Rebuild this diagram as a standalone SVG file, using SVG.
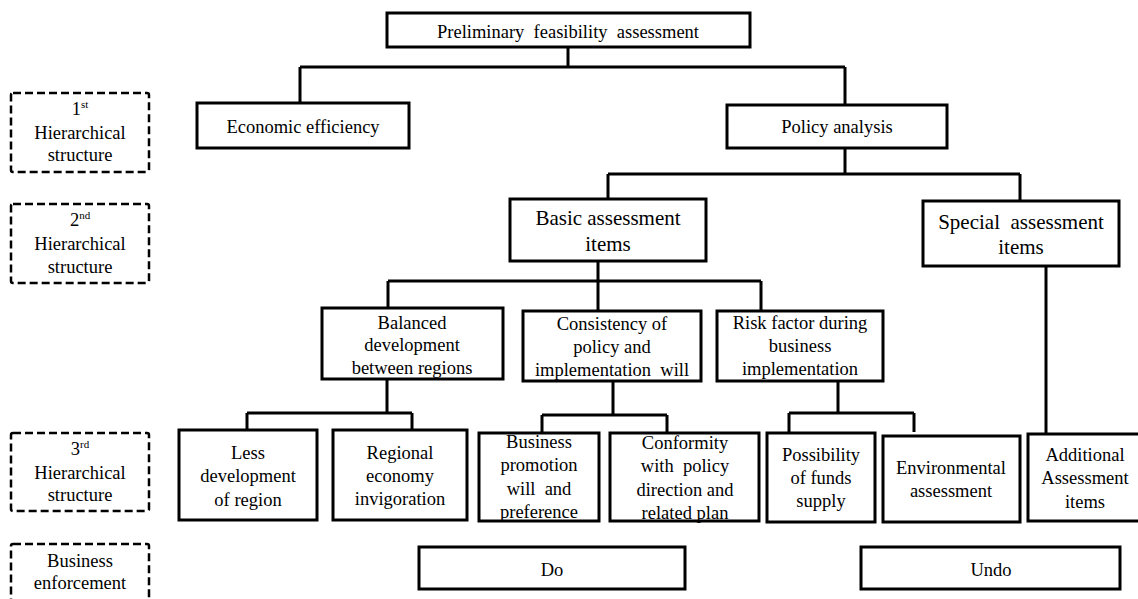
<svg xmlns="http://www.w3.org/2000/svg" width="1138" height="599" viewBox="0 0 1138 599">
<style>
.box{fill:#fff;stroke:#000;stroke-width:3}
.lab{fill:#fff;stroke:#000;stroke-width:2.5;stroke-dasharray:8 4}
.con{fill:none;stroke:#000;stroke-width:3}
text{fill:#000;text-anchor:middle}
.t18{font-size:18.5px}
.t21{font-size:21px}
.sup{font-size:11px}
</style>
<rect x="0" y="0" width="1138" height="599" fill="#fff"/>
<g font-family="'Liberation Serif', 'Times New Roman', serif">
<g id="connectors">
<path class="con" d="M568 47V67M300 67H845M300 67V103M845 67V105"/>
<path class="con" d="M845 148V174M608 174H1020M608 174V199M1020 174V201"/>
<path class="con" d="M598 261V281M388 281H761M388 281V308M598 281V311M761 281V311"/>
<path class="con" d="M387 379V413M247 413H412M247 413V430M412 413V430"/>
<path class="con" d="M613 381V415M542 415H667M542 415V433M667 415V433"/>
<path class="con" d="M838 381V413M789 413H914M789 413V433M914 413V432"/>
<path class="con" d="M1046 266V434"/>
</g>
<g id="label1"><rect class="lab" x="11" y="93" width="138" height="79" rx="2"/>
<text class="t18" x="80" y="115">1<tspan class="sup" dy="-7">st</tspan></text>
<text class="t18" x="80" y="139">Hierarchical</text><text class="t18" x="80" y="161">structure</text></g>
<g id="label2"><rect class="lab" x="11" y="204" width="138" height="79" rx="2"/>
<text class="t18" x="80" y="226">2<tspan class="sup" dy="-7">nd</tspan></text>
<text class="t18" x="80" y="250">Hierarchical</text><text class="t18" x="80" y="273">structure</text></g>
<g id="label3"><rect class="lab" x="11" y="433" width="138" height="78" rx="2"/>
<text class="t18" x="80" y="455">3<tspan class="sup" dy="-7">rd</tspan></text>
<text class="t18" x="80" y="479">Hierarchical</text><text class="t18" x="80" y="501">structure</text></g>
<g id="label4"><rect class="lab" x="11" y="544" width="138" height="70" rx="2"/>
<text class="t18" x="80" y="567">Business</text><text class="t18" x="80" y="589">enforcement</text></g>
<g id="n-top"><rect class="box" x="387" y="13" width="363" height="34"/>
<text class="t18" x="568" y="38" xml:space="preserve">Preliminary  feasibility  assessment</text></g>
<g id="n-econ"><rect class="box" x="197" y="103" width="212" height="45"/>
<text class="t18" x="303" y="133">Economic efficiency</text></g>
<g id="n-policy"><rect class="box" x="727" y="105" width="220" height="43"/>
<text class="t18" x="837" y="133">Policy analysis</text></g>
<g id="n-basic"><rect class="box" x="510" y="199" width="196" height="62"/>
<text class="t21" x="608" y="225">Basic assessment</text><text class="t21" x="608" y="251">items</text></g>
<g id="n-special"><rect class="box" x="923" y="201" width="196" height="65"/>
<text class="t21" x="1021" y="229" xml:space="preserve">Special  assessment</text><text class="t21" x="1021" y="254">items</text></g>
<g id="n-balanced"><rect class="box" x="322" y="308" width="181" height="71"/>
<text class="t18" x="412" y="329">Balanced</text><text class="t18" x="412" y="351">development</text><text class="t18" x="412" y="374">between regions</text></g>
<g id="n-consistency"><rect class="box" x="523" y="311" width="178" height="70"/>
<text class="t18" x="612" y="330">Consistency of</text><text class="t18" x="612" y="353">policy and</text><text class="t18" x="612" y="376" xml:space="preserve">implementation  will</text></g>
<g id="n-risk"><rect class="box" x="717" y="311" width="166" height="70"/>
<text class="t18" x="800" y="329">Risk factor during</text><text class="t18" x="800" y="352">business</text><text class="t18" x="800" y="375">implementation</text></g>
<g id="n-less"><rect class="box" x="179" y="430" width="138" height="90"/>
<text class="t18" x="248" y="459">Less</text><text class="t18" x="248" y="482">development</text><text class="t18" x="248" y="506">of region</text></g>
<g id="n-regional"><rect class="box" x="333" y="430" width="134" height="90"/>
<text class="t18" x="400" y="459">Regional</text><text class="t18" x="400" y="482">economy</text><text class="t18" x="400" y="505">invigoration</text></g>
<g id="n-business"><rect class="box" x="479" y="433" width="120" height="88"/>
<text class="t18" x="539" y="448">Business</text><text class="t18" x="539" y="471">promotion</text><text class="t18" x="539" y="495" xml:space="preserve">will  and</text><text class="t18" x="539" y="518">preference</text></g>
<g id="n-conformity"><rect class="box" x="610" y="433" width="149" height="88"/>
<text class="t18" x="685" y="449">Conformity</text><text class="t18" x="685" y="472" xml:space="preserve">with  policy</text><text class="t18" x="685" y="496">direction and</text><text class="t18" x="685" y="519">related plan</text></g>
<g id="n-funds"><rect class="box" x="767" y="433" width="108" height="89"/>
<text class="t18" x="821" y="461">Possibility</text><text class="t18" x="821" y="484">of funds</text><text class="t18" x="821" y="507">supply</text></g>
<g id="n-env"><rect class="box" x="883" y="436" width="137" height="86"/>
<text class="t18" x="951" y="474">Environmental</text><text class="t18" x="951" y="497">assessment</text></g>
<g id="n-additional"><rect class="box" x="1028" y="434" width="115" height="87"/>
<text class="t18" x="1085" y="461">Additional</text><text class="t18" x="1085" y="484">Assessment</text><text class="t18" x="1085" y="508">items</text></g>
<g id="n-do"><rect class="box" x="419" y="547" width="266" height="42"/>
<text class="t18" x="552" y="576">Do</text></g>
<g id="n-undo"><rect class="box" x="861" y="547" width="259" height="42"/>
<text class="t18" x="991" y="576">Undo</text></g>
</g>
</svg>
